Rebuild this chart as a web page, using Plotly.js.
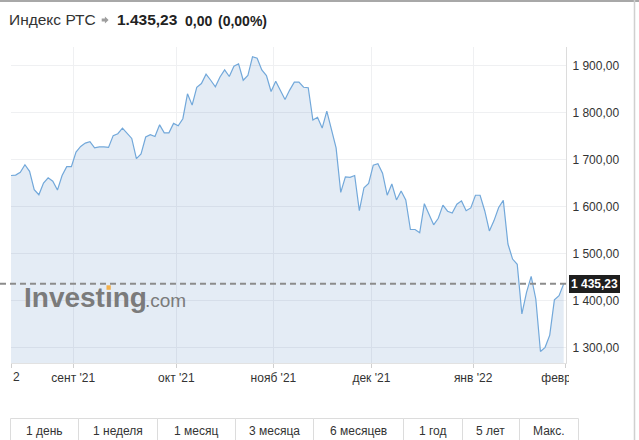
<!DOCTYPE html>
<html>
<head>
<meta charset="utf-8">
<script src="https://cdn.plot.ly/plotly-3.0.1.min.js"></script>
<style>
  html, body { margin: 0; padding: 0; background: #fff; }
  #chart { width: 639px; height: 440px; }
</style>
</head>
<body>
<div id="chart"></div>
<script>
// ---- data ----
const closeValues = [
  1666, 1667, 1673, 1689, 1675, 1636, 1625, 1650, 1661, 1654,
  1635, 1666, 1685, 1685, 1716, 1728, 1735, 1738, 1725, 1727,
  1727, 1726, 1751, 1755, 1767, 1757, 1745, 1702, 1712, 1748,
  1753, 1749, 1774, 1757, 1757, 1777, 1772, 1787, 1840, 1816,
  1854, 1862, 1882, 1869, 1855, 1876, 1891, 1877, 1899, 1904,
  1869, 1879, 1919, 1916, 1891, 1879, 1845, 1867, 1849, 1828,
  1848, 1865, 1865, 1854, 1853, 1784, 1790, 1767, 1803, 1767,
  1725, 1630, 1663, 1662, 1666, 1591, 1640, 1649, 1688, 1691,
  1671, 1624, 1648, 1614, 1633, 1614, 1551, 1551, 1544, 1606,
  1584, 1561, 1575, 1603, 1590, 1586, 1605, 1612, 1591, 1597,
  1624, 1624, 1591, 1548, 1570, 1598, 1613, 1520, 1488, 1477,
  1371, 1417, 1451, 1403, 1291, 1300, 1326, 1401, 1410, 1435.23
];
const dayIndex = closeValues.map((v, i) => i);
const xTickIndex = [0, 13.4, 35.6, 56.5, 77.6, 99.5, 119.4];
const xTickLabels = ["", "сент '21", "окт '21", "нояб '21", "дек '21", "янв '22", "февр '22"];
const yTickValues = [1300, 1400, 1500, 1600, 1700, 1800, 1900];
const yTickLabels = ["1 300,00", "1 400,00", "1 500,00", "1 600,00", "1 700,00", "1 800,00", "1 900,00"];
const lastPrice = 1435.23;
const lastPriceLabel = "1 435,23";
const headerName = "Индекс РТС";
const headerPrice = "1.435,23";
const headerChange = "0,00";
const headerChangePct = "(0,00%)";
const periodButtons = ["1 день", "1 неделя", "1 месяц", "3 месяца", "6 месяцев", "1 год", "5 лет", "Макс."];

// ---- geometry helpers (pixel -> paper) ----
const L = 11, R = 566, T = 47, B = 363;
const px = x => (x - L) / (R - L);
const py = y => (B - y) / (B - T);
const yMin = 1266.6, yMax = 1939.8;
const FONT = "Liberation Sans, Arial, sans-serif";

const buttonEdges = [10, 78, 157, 235, 313, 403, 462, 519, 578];

function pathFrom(points) {
  return 'M ' + points.map(p => px(p[0]) + ',' + py(p[1])).join(' L ') + ' Z';
}

const shapes = [
  // dashed last-price line
  { type: 'line', xref: 'paper', yref: 'paper', x0: px(0), x1: px(566),
    y0: (lastPrice - yMin) / (yMax - yMin), y1: (lastPrice - yMin) / (yMax - yMin),
    line: { color: '#8c8c8c', width: 2, dash: '6px,4px' }, layer: 'above' },
  // clip of the last x label
  { type: 'rect', xref: 'paper', yref: 'paper', x0: px(569), x1: px(632), y0: py(393), y1: py(365),
    fillcolor: '#ffffff', line: { width: 0 }, layer: 'above' },
  // top border
  { type: 'line', xref: 'paper', yref: 'paper', x0: px(0), x1: px(639), y0: py(1), y1: py(1),
    line: { color: '#a8a8a8', width: 2 }, layer: 'above' },
  // right border
  { type: 'line', xref: 'paper', yref: 'paper', x0: px(634.5), x1: px(634.5), y0: py(0), y1: py(440),
    line: { color: '#d0d0d0', width: 1.5 }, layer: 'above' },
  // orange dot of the logo
  { type: 'rect', xref: 'paper', yref: 'paper', x0: px(106.5), x1: px(110.8), y0: py(289.8), y1: py(285.3),
    fillcolor: '#f3b04b', line: { width: 0 }, layer: 'above' },
  // header arrow icon
  { type: 'path', xref: 'paper', yref: 'paper', layer: 'above',
    path: pathFrom([[101.7, 18.6], [104.9, 18.6], [104.9, 16.4], [108.6, 20], [104.9, 23.6], [104.9, 21.4], [101.7, 21.4]]),
    fillcolor: '#9e9e9e', line: { width: 0 } }
];
for (let i = 0; i < periodButtons.length; i++) {
  shapes.push({ type: 'rect', xref: 'paper', yref: 'paper',
    x0: px(buttonEdges[i] + 0.5), x1: px(buttonEdges[i + 1] + 0.5), y0: py(418.5), y1: py(446),
    line: { color: '#dcdcdc', width: 1 }, fillcolor: 'rgba(0,0,0,0)', layer: 'above' });
}

function ann(text, x, y, opts) {
  return Object.assign({ text: text, xref: 'paper', yref: 'paper', x: px(x), y: py(y),
    xanchor: 'left', yanchor: 'middle', showarrow: false, borderpad: 0, borderwidth: 0,
    font: { family: FONT, size: 12, color: '#333' } }, opts || {});
}

const annotations = [
  ann(headerName, 9, 20, { font: { family: FONT, size: 15.5, color: '#333' } }),
  ann(headerPrice, 117, 20, { font: { family: FONT, size: 15.5, color: '#222', weight: 'bold' } }),
  ann(headerChange, 185, 20.5, { font: { family: FONT, size: 14, color: '#222', weight: 'bold' } }),
  ann(headerChangePct, 218, 20.5, { font: { family: FONT, size: 14, color: '#222', weight: 'bold' } }),
  ann("Investıng", 24, 297, { font: { family: FONT, size: 28, color: '#7b7b7b', weight: 'bold' } }),
  ann(".com", 145, 300.5, { font: { family: FONT, size: 19, color: '#7b7b7b' } }),
  ann("2", 12.5, 377, { font: { family: FONT, size: 12, color: '#333' } }),
  ann(lastPriceLabel, 568.5, 284.3, { bgcolor: '#1e1e1e', borderpad: 2,
    font: { family: FONT, size: 12, color: '#ffffff', weight: 'bold' } })
];
for (let i = 0; i < periodButtons.length; i++) {
  const cx = (buttonEdges[i] + buttonEdges[i + 1]) / 2;
  annotations.push(ann(periodButtons[i], cx, 430.5, { xanchor: 'center',
    font: { family: FONT, size: 12, color: '#333' } }));
}

const trace = {
  type: 'scatter', mode: 'lines', x: dayIndex, y: closeValues,
  line: { color: '#72a8da', width: 1.2 },
  fill: 'tozeroy', fillcolor: 'rgba(29,100,170,0.12)',
  hoverinfo: 'skip'
};

const layout = {
  width: 639, height: 440,
  margin: { l: L, r: 639 - R, t: T, b: 440 - B },
  paper_bgcolor: '#ffffff', plot_bgcolor: '#ffffff',
  showlegend: false,
  font: { family: FONT, size: 12, color: '#333' },
  xaxis: {
    range: [0, 119.5], tickmode: 'array', tickvals: xTickIndex, ticktext: xTickLabels,
    showgrid: true, gridcolor: '#eff0f2', gridwidth: 1,
    showline: true, linecolor: '#e2e2e2', linewidth: 1,
    ticks: 'outside', ticklen: 4, tickcolor: '#cfcfcf', tickwidth: 1,
    tickfont: { family: FONT, size: 12, color: '#333' }, zeroline: false, fixedrange: true
  },
  yaxis: {
    side: 'right', range: [yMin, yMax], tickmode: 'array', tickvals: yTickValues, ticktext: yTickLabels,
    showgrid: true, gridcolor: '#eff0f2', gridwidth: 1,
    showline: true, linecolor: '#dcdcdc', linewidth: 1,
    ticks: 'outside', ticklen: 3, tickcolor: 'rgba(0,0,0,0)',
    tickfont: { family: FONT, size: 12, color: '#333' }, zeroline: false, fixedrange: true
  },
  shapes: shapes,
  annotations: annotations
};

Plotly.newPlot('chart', [trace], layout, { staticPlot: true, displayModeBar: false });
</script>
</body>
</html>
